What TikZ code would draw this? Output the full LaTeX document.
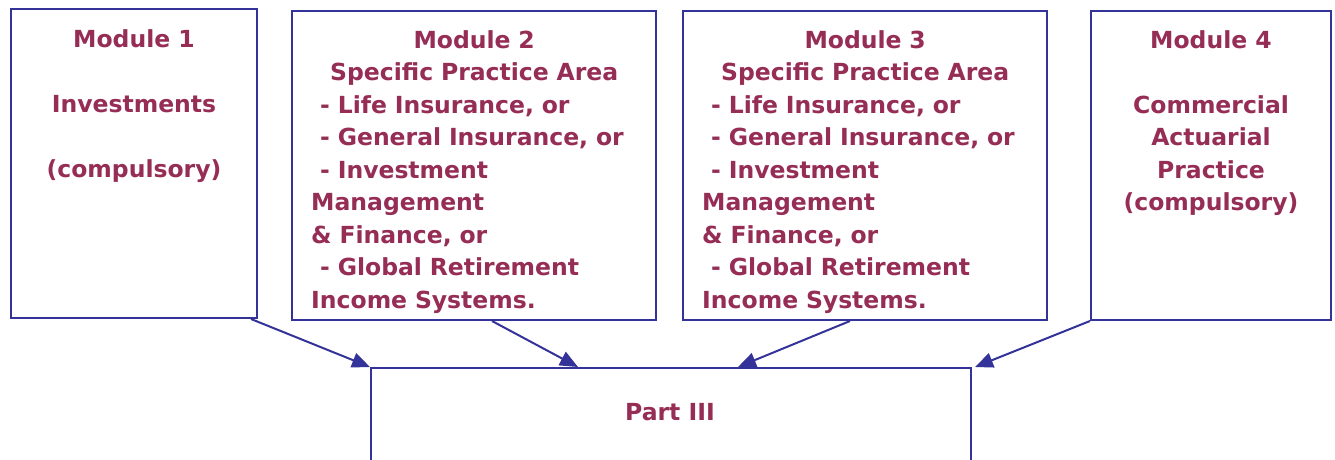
\documentclass[tikz,border=0pt]{standalone}
\usepackage{fontspec}
\setmainfont{DejaVu Sans}
\usetikzlibrary{arrows.meta,calc}
\definecolor{framecol}{RGB}{51,51,153}
\definecolor{textcol}{RGB}{150,45,85}
\begin{document}
\begin{tikzpicture}[x=1pt,y=-1pt,
  module/.style={draw=framecol, line width=2pt, inner sep=0pt, fill=white},
  label/.style={text=textcol, font=\fontsize{23.5}{32.5}\selectfont\bfseries, inner sep=0pt},
  feed/.style={draw=framecol, line width=2pt, -{Triangle[length=18pt,width=15pt]}}]
\useasboundingbox (0,0) rectangle (1335,459);
\clip (0,0) rectangle (1335,459);

% module boxes
\node[module, minimum width=246pt, minimum height=309pt] (m1) at (134,163.5) {};
\node[module, minimum width=364pt, minimum height=309pt] (m2) at (474,165.5) {};
\node[module, minimum width=364pt, minimum height=309pt] (m3) at (865,165.5) {};
\node[module, minimum width=240pt, minimum height=309pt] (m4) at (1211,165.5) {};
\node[module, minimum width=600pt, minimum height=130pt] (p3) at (671,433) {};

% box texts
\node[label, align=center, anchor=north] (t1) at (134,29)
  {Module 1\\[32.5pt]Investments\\[32.5pt](compulsory)};
\node[label, text width=326pt, anchor=north west] (t2) at (311,30)
  {{\centering Module 2\\Specific Practice Area\par}\raggedright
   \hspace*{9pt}- Life Insurance, or\\
   \hspace*{9pt}- General Insurance, or\\
   \hspace*{9pt}- Investment\\
   Management\\
   \&\ Finance, or\\
   \hspace*{9pt}- Global Retirement\\
   Income Systems.};
\node[label, text width=326pt, anchor=north west] (t3) at (702,30)
  {{\centering Module 3\\Specific Practice Area\par}\raggedright
   \hspace*{9pt}- Life Insurance, or\\
   \hspace*{9pt}- General Insurance, or\\
   \hspace*{9pt}- Investment\\
   Management\\
   \&\ Finance, or\\
   \hspace*{9pt}- Global Retirement\\
   Income Systems.};
\node[label, align=center, anchor=north] (t4) at (1211,30)
  {Module 4\\[32.5pt]Commercial\\Actuarial\\Practice\\(compulsory)};
\node[label, anchor=base] (t5) at (670,420) {Part III};

% connectors into Part III
\draw[feed] ([xshift=-7pt]m1.south east) -- (p3.north west);
\draw[feed] ([xshift=18pt]m2.south) -- ([xshift=-93pt]p3.north);
\draw[feed] ([xshift=-15pt]m3.south) -- ([xshift=67pt]p3.north);
\draw[feed] (m4.south west) -- ([xshift=3pt]p3.north east);
\end{tikzpicture}
\end{document}
